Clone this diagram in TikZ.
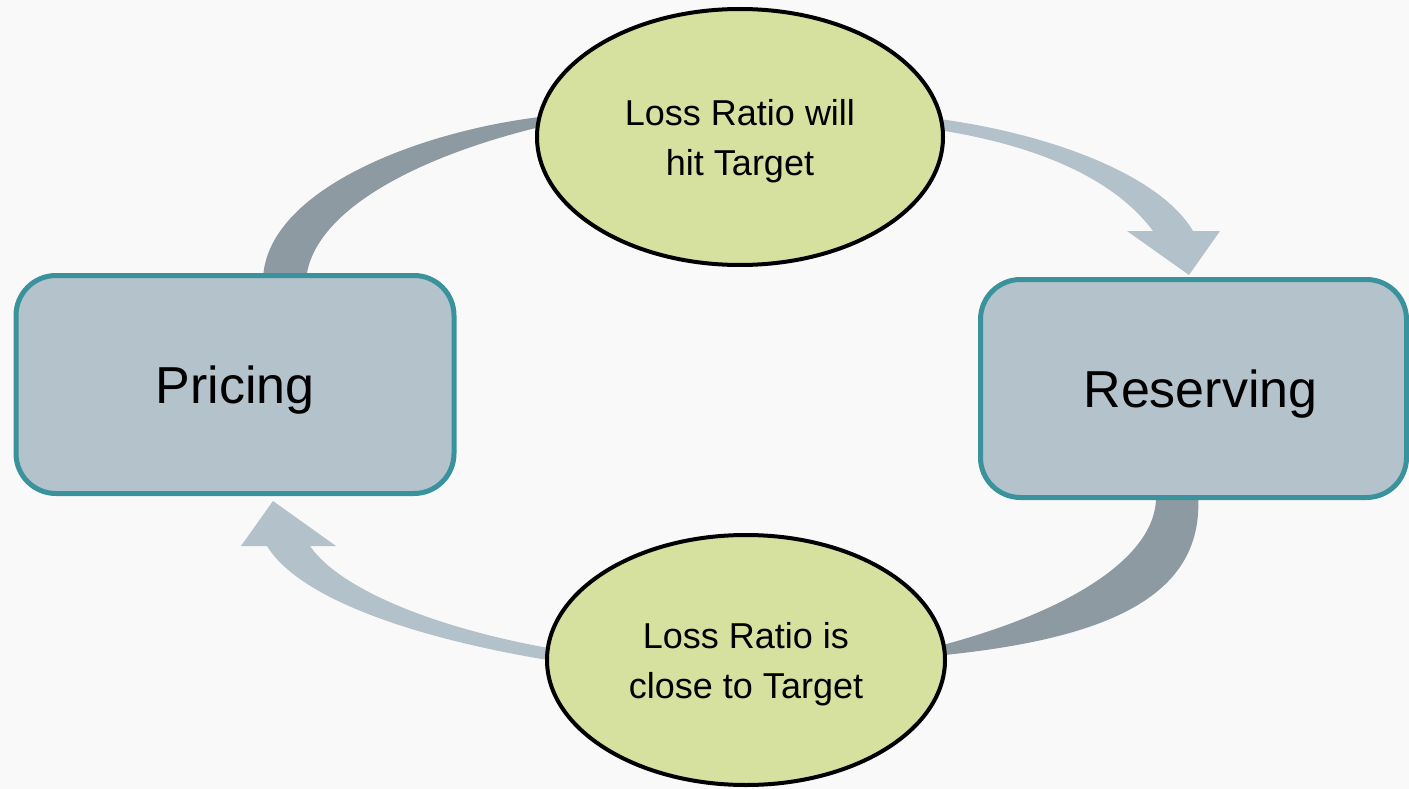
\documentclass[tikz,border=0pt]{standalone}
\usepackage{fontspec}
\setmainfont{Liberation Sans}
\usepackage{tikz}
\usepackage{xcolor}
\usetikzlibrary{shapes}

\definecolor{bgcol}{HTML}{F9F9F9}
\definecolor{boxfill}{HTML}{B3C2CB}
\definecolor{boxedge}{HTML}{3A929C}
\definecolor{ovalfill}{HTML}{D6E09F}
\definecolor{banddark}{HTML}{8D9AA2}
\definecolor{bandlight}{HTML}{B3C1CA}

\begin{document}
\begin{tikzpicture}[x=1pt, y=-1pt,
        stage/.style={rectangle, rounded corners=40pt, draw=boxedge, line width=5pt, fill=boxfill,
            minimum width=438pt, minimum height=218pt, inner sep=0pt, text height=48pt, text depth=11pt,
            font=\fontsize{52}{60}\selectfont},
        state/.style={ellipse, draw=black, line width=4pt, fill=ovalfill, inner sep=0pt,
            align=center, text height=84pt, font=\fontsize{36}{50}\selectfont},
        darkband/.style={fill=banddark},
        lightband/.style={fill=bandlight}]
        \fill[bgcol] (0, 0) rectangle (1409, 789);
        \useasboundingbox (0, 0) rectangle (1409, 789);

        \fill[darkband] (263, 280) .. controls (265, 190) and (420, 130) .. (548, 116)
            -- (548, 125) .. controls (420, 155) and (312, 210) .. (306, 280) -- cycle;
        \fill[lightband] (932, 118) .. controls (1050, 133) and (1160, 175) .. (1193, 231)
            -- (1220, 231) -- (1189, 275) -- (1127, 231) -- (1153, 231)
            .. controls (1115, 180) and (1040, 145) .. (932, 129) -- cycle;
        \fill[darkband] (1198, 495) .. controls (1205, 600) and (1100, 640) .. (935, 656)
            -- (935, 647) .. controls (1060, 615) and (1158, 560) .. (1156, 495) -- cycle;
        \fill[lightband] (560, 662) .. controls (420, 640) and (300, 600) .. (267, 546)
            -- (241, 546) -- (273, 501) -- (336, 546) -- (310, 546)
            .. controls (340, 590) and (440, 630) .. (560, 650) -- cycle;

        \node[stage] at (235, 384.5) (pricing) {Pricing};
        \node[stage, minimum width=426pt] at (1193.5, 388.5) (reserving) {\hspace*{14pt}Reserving};
        \node[state, minimum width=406pt, minimum height=256pt] at (740, 137) (hit) {Loss Ratio will\\hit Target};
        \node[state, minimum width=398pt, minimum height=250pt] at (746, 660) (close) {Loss Ratio is\\close to Target};
    \end{tikzpicture}
\end{document}
